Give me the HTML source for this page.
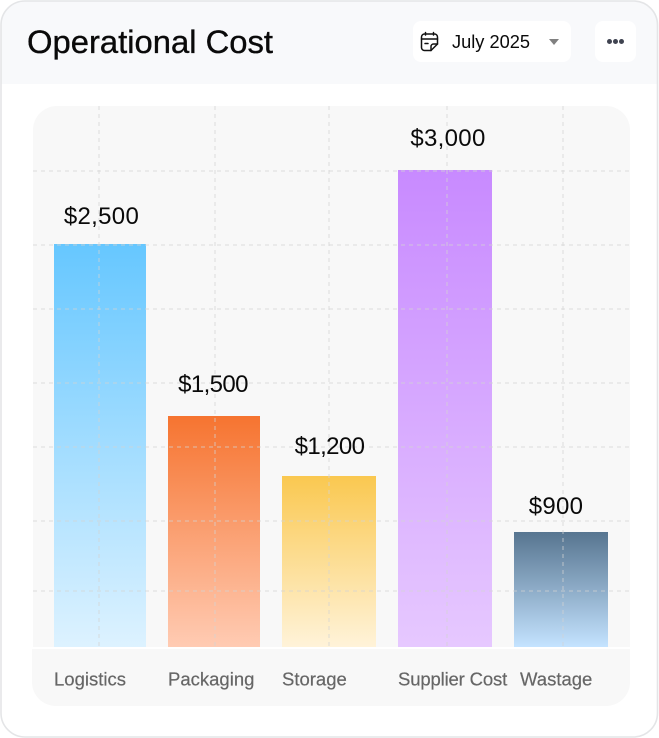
<!DOCTYPE html>
<html lang="en">
<head>
<meta charset="utf-8">
<title>Operational Cost</title>
<style>
html,body{margin:0;padding:0;background:#fff;width:659px;height:738px;overflow:hidden}
svg{display:block}
text{font-family:"Liberation Sans",sans-serif}
</style>
</head>
<body>
<svg id="chart" width="659" height="738" viewBox="0 0 659 738" xmlns="http://www.w3.org/2000/svg">
  <defs>
    <clipPath id="card-clip"><rect x="1" y="1" width="656.5" height="736" rx="24"/></clipPath>
    <clipPath id="plot-clip"><path d="M33 647V130a24 24 0 0 1 24-24H606a24 24 0 0 1 24 24V647Z"/></clipPath>
    <linearGradient id="grad-0" x1="0" y1="0" x2="0" y2="1"><stop offset="0" stop-color="#66c7ff"/><stop offset="1" stop-color="#ddf2ff"/></linearGradient>
    <linearGradient id="grad-1" x1="0" y1="0" x2="0" y2="1"><stop offset="0" stop-color="#f67430"/><stop offset="1" stop-color="#ffcbb3"/></linearGradient>
    <linearGradient id="grad-2" x1="0" y1="0" x2="0" y2="1"><stop offset="0" stop-color="#fac850"/><stop offset="1" stop-color="#fff3d9"/></linearGradient>
    <linearGradient id="grad-3" x1="0" y1="0" x2="0" y2="1"><stop offset="0" stop-color="#c88aff"/><stop offset="1" stop-color="#e6c8ff"/></linearGradient>
    <linearGradient id="grad-4" x1="0" y1="0" x2="0" y2="1"><stop offset="0" stop-color="#577590"/><stop offset="1" stop-color="#c4e3ff"/></linearGradient>
  </defs>

  <rect x="1" y="1" width="656.5" height="736" rx="24" fill="#fff"/>
  <rect x="1" y="1" width="657" height="83" fill="#f8f9fb" clip-path="url(#card-clip)"/>
  <rect x="1" y="1" width="656.5" height="736" rx="24" fill="none" stroke="#e4e5e7" stroke-width="1.6"/>

  <text x="27" y="53" font-size="32" fill="#0a0a0a" stroke="#0a0a0a" stroke-width="0.35" textLength="246" lengthAdjust="spacingAndGlyphs">Operational Cost</text>

  <g>
    <rect x="413" y="21" width="158" height="41" rx="8" fill="#fff"/>
    <g fill="none" stroke="#111" stroke-width="1.5" stroke-linecap="round" stroke-linejoin="round">
      <path d="M431 50.5H424.5a3 3 0 0 1-3-3V37a3 3 0 0 1 3-3H434.5a3 3 0 0 1 3 3V44Z"/>
      <path d="M431 50.5V46.5a2.5 2.5 0 0 1 2.5-2.5H437.5"/>
      <path d="M421.5 39H437.5M425.5 32.5V35M433.5 32.5V35M425 43.5H428"/>
    </g>
    <text x="452" y="48" font-size="18" fill="#0a0a0a" textLength="78" lengthAdjust="spacingAndGlyphs">July 2025</text>
    <path d="M549 39H559L554 45Z" fill="#808080"/>
  </g>

  <g>
    <rect x="595" y="21" width="41" height="41" rx="8" fill="#fff"/>
    <circle cx="609.5" cy="41.5" r="2.5" fill="#3f4350"/>
    <circle cx="615.5" cy="41.5" r="2.5" fill="#3f4350"/>
    <circle cx="621.5" cy="41.5" r="2.5" fill="#3f4350"/>
  </g>

  <path d="M33 647V130a24 24 0 0 1 24-24H606a24 24 0 0 1 24 24V647Z" fill="#f8f8f8"/>
  <path d="M32 649H630V682a24 24 0 0 1-24 24H56a24 24 0 0 1-24-24Z" fill="#f8f8f8"/>

  <g id="bars"></g>

  <g clip-path="url(#plot-clip)" stroke="#d4d4d4" stroke-opacity="0.5" stroke-width="1.5" stroke-dasharray="4 4">
    <line x1="33" x2="630" y1="171" y2="171"/>
    <line x1="33" x2="630" y1="245" y2="245"/>
    <line x1="33" x2="630" y1="309" y2="309"/>
    <line x1="33" x2="630" y1="383" y2="383"/>
    <line x1="33" x2="630" y1="447" y2="447"/>
    <line x1="33" x2="630" y1="521" y2="521"/>
    <line x1="33" x2="630" y1="591" y2="591"/>
    <line x1="99" x2="99" y1="106" y2="647"/>
    <line x1="215" x2="215" y1="106" y2="647"/>
    <line x1="329" x2="329" y1="106" y2="647"/>
    <line x1="447" x2="447" y1="106" y2="647"/>
    <line x1="563" x2="563" y1="106" y2="647"/>
  </g>

  <g id="value-labels"></g>
  <g id="category-labels"></g>
</svg>

<script>
// Chart data
const categories = ["Logistics", "Packaging", "Storage", "Supplier Cost", "Wastage"];
const values = [2500, 1500, 1200, 3000, 900];

// Axis calibration: the reference's value axis is not linear, so the
// y scale is piecewise between these calibration stops.
const scaleStops = [0, 900, 1200, 1500, 2500, 3000];
const scaleHeights = [0, 115, 171, 231, 403, 477];

const SVG_NS = "http://www.w3.org/2000/svg";
const baselineY = 647;

function yScale(value) {
  const last = scaleStops.length - 1;
  let i = 0;
  while (i < last - 1 && value > scaleStops[i + 1]) i++;
  const t = (value - scaleStops[i]) / (scaleStops[i + 1] - scaleStops[i]);
  return baselineY - (scaleHeights[i] + t * (scaleHeights[i + 1] - scaleHeights[i]));
}

// Band layout: slot widths grow with the index the way the reference rounds them.
function bandWidth(index) {
  return index < 2 ? 92 : 94;
}
function xScale(index) {
  let x = 54;
  for (let i = 0; i < index; i++) x += bandWidth(i) + 22;
  return x;
}

// Value labels sit slightly off the bar centre and top in the reference.
function labelDx(index) {
  if (index === 0) return 1.5;
  if (index === 1) return -1;
  if (index === 2) return 0.5;
  if (index === 3) return 3;
  return -5;
}
function labelGap(index) {
  if (index === 0) return 20;
  if (index === 2) return 22;
  if (index === 4) return 18;
  return 24;
}

function formatValue(value) {
  return "$" + value.toLocaleString("en-US");
}

const barsGroup = document.getElementById("bars");
const valueGroup = document.getElementById("value-labels");
const categoryGroup = document.getElementById("category-labels");

categories.forEach(function (category, i) {
  const slug = category.toLowerCase().replace(/\s+/g, "-");
  const x = xScale(i);
  const w = bandWidth(i);
  const top = yScale(values[i]);
  const label = formatValue(values[i]);

  const bar = document.createElementNS(SVG_NS, "rect");
  
  
  bar.setAttribute("x", x);
  bar.setAttribute("y", top);
  bar.setAttribute("width", w);
  bar.setAttribute("height", baselineY - top);
  bar.setAttribute("fill", "url(#grad-" + i + ")");
  barsGroup.appendChild(bar);

  const valueText = document.createElementNS(SVG_NS, "text");
  
  
  valueText.setAttribute("x", x + w / 2 + labelDx(i));
  valueText.setAttribute("y", top - labelGap(i));
  valueText.setAttribute("text-anchor", "middle");
  valueText.setAttribute("font-size", "24");
  valueText.setAttribute("letter-spacing", label.indexOf("1") >= 0 ? "-0.6" : "0.3");
  valueText.setAttribute("fill", "#0a0a0a");
  valueText.textContent = label;
  valueGroup.appendChild(valueText);

  const categoryText = document.createElementNS(SVG_NS, "text");
  
  
  categoryText.setAttribute("x", x + (i === 4 ? 6 : 0));
  categoryText.setAttribute("y", 685.5);
  categoryText.setAttribute("font-size", "18.5");
  categoryText.setAttribute("letter-spacing", category.length > 10 ? "-0.15" : "0");
  categoryText.setAttribute("fill", "#666666");
  categoryText.setAttribute("stroke", "#666666");
  categoryText.setAttribute("stroke-width", "0.2");
  categoryText.textContent = category;
  categoryGroup.appendChild(categoryText);
});
</script>
</body>
</html>
